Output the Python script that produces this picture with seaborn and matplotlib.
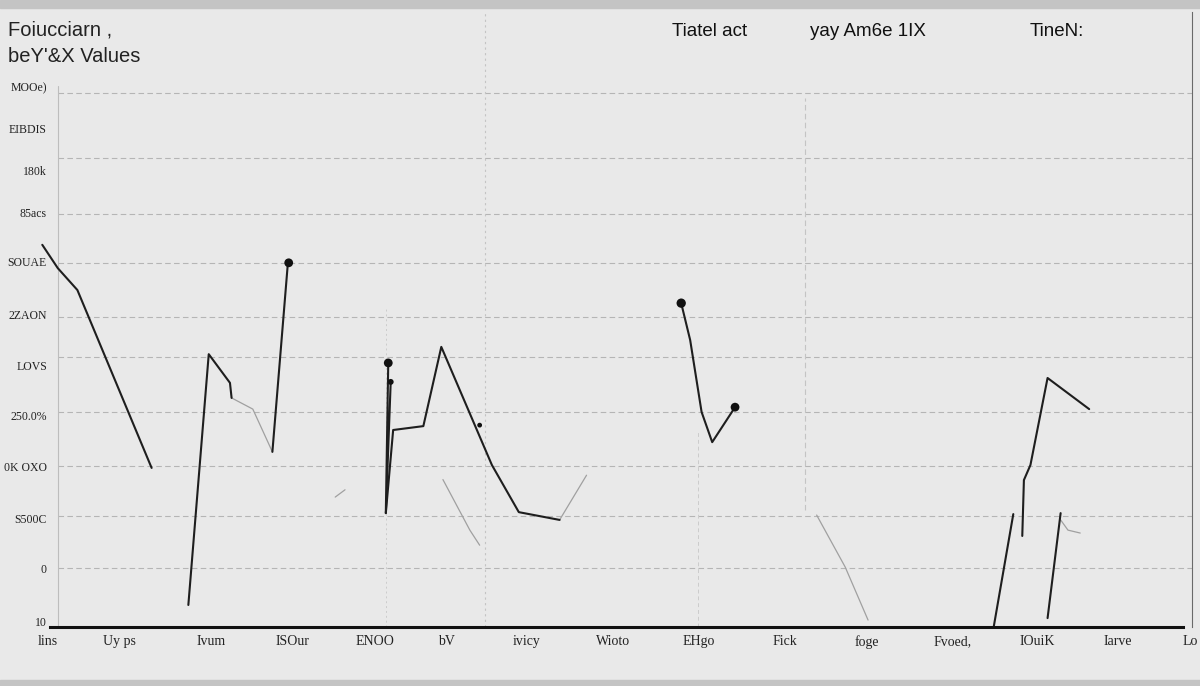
import numpy as np
import pandas as pd
import matplotlib
matplotlib.use("Agg")
import matplotlib.pyplot as plt
from matplotlib.patches import Rectangle
import seaborn as sns

# -----------------------------
# data
# -----------------------------
x_tick_pos = [0, 0.88, 2.0, 2.99, 4.01, 4.88, 5.87, 6.92, 7.98, 9.03, 10.04, 11.09, 12.12, 13.11, 14.0]
x_tick_labels = ["lins", "Uy ps", "Ivum", "ISOur", "ENOO", "bV", "ivicy", "Wioto",
                 "EHgo", "Fick", "foge", "Fvoed,", "IOuiK", "Iarve", "Lo"]
y_tick_pos = [11.01, 10.16, 9.28, 8.42, 7.41, 6.32, 5.27, 4.24, 3.19, 2.12, 1.11, 0.0]
y_tick_labels = ["MOOe)", "EIBDIS", "180k", "85acs", "SOUAE", "2ZAON", "LOVS",
                 "250.0%", "0K OXO", "S500C", "0", "10"]
grid_y = [10.88, 9.55, 8.40, 7.39, 6.28, 5.45, 4.32, 3.21, 2.18, 1.11]

# black line segments: (segment id, x, y)
seg_a_x = [-0.07, 0.12, 0.36, 1.27]
seg_a_y = [7.76, 7.28, 6.83, 3.17]
seg_b1_x = [1.72, 1.97, 2.23, 2.25]
seg_b1_y = [0.35, 5.51, 4.92, 4.61]
seg_b3_x = [2.75, 2.94]
seg_b3_y = [3.50, 7.39]
seg_c1_x = [4.17, 4.14, 4.20]
seg_c1_y = [5.33, 2.24, 4.94]
seg_c2_x = [4.14, 4.23, 4.60, 4.82, 5.44, 5.77, 6.27]
seg_c2_y = [2.24, 3.95, 4.03, 5.66, 3.23, 2.26, 2.10]
seg_d_x = [7.76, 7.87, 8.01, 8.14, 8.42]
seg_d_y = [6.56, 5.80, 4.32, 3.70, 4.42]
seg_e1_x = [11.59, 11.83]
seg_e1_y = [-0.10, 2.22]
seg_e2_x = [11.94, 11.96, 12.04, 12.25, 12.76]
seg_e2_y = [1.77, 2.92, 3.23, 5.02, 4.38]
seg_e3_x = [12.25, 12.41]
seg_e3_y = [0.08, 2.24]

# faint grey strokes
seg_g1_x = [2.25, 2.51, 2.75]
seg_g1_y = [4.61, 4.38, 3.50]
seg_g2_x = [6.27, 6.60]
seg_g2_y = [2.10, 3.02]
seg_g3_x = [4.84, 5.17, 5.29]
seg_g3_y = [2.93, 1.89, 1.58]
seg_g4_x = [3.52, 3.64]
seg_g4_y = [2.57, 2.72]
seg_g5_x = [9.42, 9.77, 10.05]
seg_g5_y = [2.20, 1.13, 0.04]
seg_g6_x = [12.41, 12.50, 12.65]
seg_g6_y = [2.10, 1.89, 1.83]

# dots
dot_x = [2.95, 4.17, 4.20, 7.76, 8.42, 5.29]
dot_y = [7.39, 5.33, 4.94, 6.56, 4.42, 4.05]
dot_size = [40, 40, 18, 45, 40, 12]


def to_frame(segs):
    rows = []
    for i, (xs, ys) in enumerate(segs):
        for k, (xv, yv) in enumerate(zip(xs, ys)):
            rows.append({"seg": i, "order": k, "x": xv, "y": yv})
    return pd.DataFrame(rows)


black = to_frame([(seg_a_x, seg_a_y), (seg_b1_x, seg_b1_y), (seg_b3_x, seg_b3_y),
                  (seg_c1_x, seg_c1_y), (seg_c2_x, seg_c2_y), (seg_d_x, seg_d_y),
                  (seg_e1_x, seg_e1_y), (seg_e2_x, seg_e2_y), (seg_e3_x, seg_e3_y)])
grey = to_frame([(seg_g1_x, seg_g1_y), (seg_g2_x, seg_g2_y), (seg_g3_x, seg_g3_y),
                 (seg_g4_x, seg_g4_y), (seg_g5_x, seg_g5_y), (seg_g6_x, seg_g6_y)])
dots = pd.DataFrame({"x": dot_x, "y": dot_y, "s": dot_size})

# -----------------------------
# plot
# -----------------------------
sns.set_theme(style="white")
plt.rcParams["font.family"] = ["Liberation Sans", "DejaVu Sans"]

bg = "#e9e9e9"
fig = plt.figure(figsize=(12, 6.86), dpi=100, facecolor=bg)
ax = fig.add_axes([40 / 1200, 59 / 686, 1152 / 1200, 615 / 686])
ax.set_facecolor(bg)

# px -> data helpers for the frame only
xlim = (-0.098, 14.02)
ylim = (-0.103, 12.55)
ax.set_xlim(*xlim)
ax.set_ylim(*ylim)

# dashed horizontal grid
for gy in grid_y:
    ax.axhline(gy, xmin=0.0156, xmax=1, color="#b5b5b5", lw=0.8, ls=(0, (5, 3)), zorder=0)
# vertical guides
ax.axvline(0.12, ymin=0.0, ymax=0.88, color="#bdbdbd", lw=0.8, zorder=0)
ax.axvline(5.36, ymin=0.0, ymax=1.0, color="#c4c4c4", lw=0.8, ls=(0, (2, 3)), zorder=0)
ax.axvline(9.28, ymin=0.19, ymax=0.86, color="#c4c4c4", lw=0.8, ls=(0, (5, 3)), zorder=0)
ax.axvline(4.14, ymin=0.0, ymax=0.52, color="#cccccc", lw=0.7, ls=(0, (2, 3)), zorder=0)
ax.axvline(7.96, ymin=0.0, ymax=0.32, color="#cccccc", lw=0.7, ls=(0, (4, 3)), zorder=0)

sns.lineplot(data=grey, x="x", y="y", units="seg", estimator=None, sort=False,
             color="#a0a0a0", lw=0.9, ax=ax)
sns.lineplot(data=black, x="x", y="y", units="seg", estimator=None, sort=False,
             color="#1e1e1e", lw=1.5, ax=ax)
sns.scatterplot(data=dots, x="x", y="y", size="s", sizes=(12, 45), color="#111111",
                edgecolor="none", legend=False, ax=ax, zorder=5)

ax.set_xticks(x_tick_pos)
ax.set_xticklabels(x_tick_labels, family=["Liberation Serif", "DejaVu Serif"],
                   fontsize=10, color="#222222")
ax.set_yticks(y_tick_pos)
ax.set_yticklabels(y_tick_labels, family=["Liberation Serif", "DejaVu Serif"],
                   fontsize=8.5, color="#222222")
ax.tick_params(axis="x", length=0, pad=6)
ax.tick_params(axis="y", length=0, pad=-5)
ax.set_xlabel("")
ax.set_ylabel("")

for side in ["top", "left"]:
    ax.spines[side].set_visible(False)
ax.spines["right"].set_color("#6a6a6a")
ax.spines["right"].set_linewidth(0.8)
ax.spines["bottom"].set_color("#111111")
ax.spines["bottom"].set_linewidth(2.2)
ax.spines["bottom"].set_bounds(0.02, 13.91)

# titles
fig.text(8 / 1200, 1 - 30 / 686, "Foiucciarn ,", fontsize=14.5, color="#222222", va="center")
fig.text(8 / 1200, 1 - 57 / 686, "beY'&X Values", fontsize=14.5, color="#222222", va="center")
fig.text(710 / 1200, 1 - 32 / 686, "Tiatel act", fontsize=13.5, color="#111111", ha="center", va="center")
fig.text(868 / 1200, 1 - 32 / 686, "yay Am6e 1IX", fontsize=13.5, color="#111111", ha="center", va="center")
fig.text(1057 / 1200, 1 - 32 / 686, "TineN:", fontsize=13.5, color="#111111", ha="center", va="center")

# photo-like borders
fig.add_artist(Rectangle((0, 1 - 8 / 686), 1, 8 / 686, transform=fig.transFigure,
                         color="#c4c4c4", zorder=0))
fig.add_artist(Rectangle((0, 0), 1, 6 / 686, transform=fig.transFigure,
                         color="#c4c4c4", zorder=0))

plt.savefig("out.png", dpi=100, facecolor=bg)
plt.close()
